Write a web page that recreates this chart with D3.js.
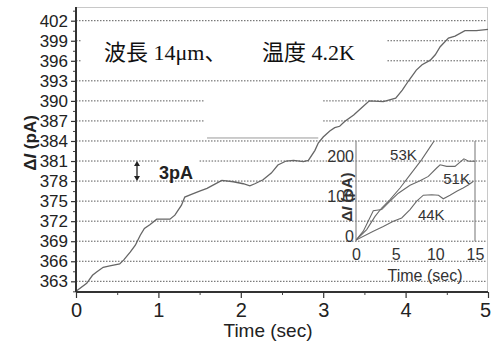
<!DOCTYPE html>
<html>
<head>
<meta charset="utf-8">
<script src="https://cdn.jsdelivr.net/npm/d3@7"></script>
<style>
  html, body { margin: 0; padding: 0; background: #fff; }
  svg { display: block; }
</style>
</head>
<body>
<svg id="chart" width="491" height="344"></svg>
<script>
// Photocurrent step trace at 4.2 K (main panel)
const mainTime = [0, 0.13, 0.20, 0.25, 0.33, 0.41, 0.53, 0.58, 0.66, 0.72,
  0.78, 0.83, 0.90, 0.98, 1.14, 1.20, 1.28, 1.32, 1.40, 1.50,
  1.59, 1.68, 1.77, 1.91, 2.03, 2.11, 2.17, 2.27, 2.37, 2.45,
  2.55, 2.64, 2.76, 2.82, 2.90, 2.94, 3.00, 3.08, 3.14, 3.20,
  3.26, 3.37, 3.47, 3.56, 3.73, 3.88, 3.96, 4.03, 4.13, 4.20,
  4.30, 4.36, 4.42, 4.52, 4.60, 4.72, 4.86, 5.0];
const mainCurrent = [361.5, 362.7, 363.9, 364.4, 365.1, 365.3, 365.6, 366.2, 367.4, 368.4,
  369.9, 370.9, 371.5, 372.3, 372.3, 372.9, 374.4, 375.6, 376.0, 376.5,
  376.9, 377.5, 378.1, 377.9, 377.6, 377.3, 377.6, 378.2, 379.2, 380.4,
  381.0, 381.1, 380.9, 381.1, 382.6, 383.7, 384.6, 385.5, 386.0, 386.2,
  386.9, 387.9, 389.0, 390.0, 389.9, 390.4, 391.6, 392.9, 394.6, 395.4,
  396.1, 396.9, 398.1, 399.4, 399.7, 400.5, 400.5, 400.7];

// Inset traces at higher temperatures
const t53 = [0, 1.35, 2.4, 3.24, 4.29, 5.55, 6.81, 8.28, 9.12, 9.96, 10.5];
const v53 = [0, 26, 59, 80, 101, 130, 163, 201, 226, 251, 265];
const t51 = [0, 0.92, 2.18, 3.24, 4.29, 5.34, 6.81, 8.07, 9.12, 10.17, 10.6, 11.43, 12.48, 13.3, 13.6, 14.2, 15];
const v51 = [0, 22, 73, 76, 97, 117, 137, 148, 159, 180, 188, 184, 184, 198, 203, 197, 197];
const t44 = [0, 2.18, 3.44, 4.7, 5.76, 6.81, 7.65, 8.49, 9.55, 10.4, 11.0, 11.85, 12.7, 13.5, 14.2, 14.8];
const v44 = [0, 22, 34, 47, 55, 76, 97, 112, 113, 112, 103, 112, 122, 130, 138, 147];

const mainXTicks = [0, 1, 2, 3, 4, 5];
const mainYTicks = [363, 366, 369, 372, 375, 378, 381, 384, 387, 390, 393, 396, 399, 402];
const insetXTicks = [0, 5, 10, 15];
const insetYTicks = [0, 100, 200];
const insetLabels = ["53K", "51K", "44K"];

const svg = d3.select("#chart");
const FONT = "'Liberation Sans', Arial, sans-serif";

const x = d3.scaleLinear().domain([0, 5]).range([76, 488]);
const y = d3.scaleLinear().domain([361.4, 404.05]).range([292, 7]);

// dotted gridlines, some interrupted where annotations sit
const gridGaps = {
  399: [[0, 0.07], [3.78, 5]],
  396: [[0, 0.07], [3.78, 5]],
  390: [[0, 1.55], [3.0, 5]],
  387: [[0, 1.55], [3.0, 5]],
  381: [[0, 1.02], [1.5, 5]]
};
const grid = svg.append("g");
mainYTicks.forEach(v => {
  const segs = gridGaps[v] || [[0, 5]];
  segs.forEach(s => {
    grid.append("line")
      .attr("x1", x(s[0])).attr("x2", x(s[1]))
      .attr("y1", y(v)).attr("y2", y(v))
      .attr("stroke", "#5a5a5a").attr("stroke-width", 1)
      .attr("stroke-dasharray", "1.5,1.5");
  });
});
// thin rule under the blanked band
grid.append("line")
  .attr("x1", x(1.59)).attr("x2", x(2.94))
  .attr("y1", y(384.45)).attr("y2", y(384.45))
  .attr("stroke", "#999").attr("stroke-width", 1);

// frame (top / right)
svg.append("line").attr("x1", 76).attr("x2", 488).attr("y1", 7.5).attr("y2", 7.5)
  .attr("stroke", "#c8c8c8").attr("stroke-width", 1);
svg.append("line").attr("x1", 487.5).attr("x2", 487.5).attr("y1", 7).attr("y2", 292)
  .attr("stroke", "#c8c8c8").attr("stroke-width", 1);

// main trace
const line = d3.line().x(d => x(d[0])).y(d => y(d[1]));
svg.append("path")
  .datum(mainTime.map((t, i) => [t, mainCurrent[i]]))
  .attr("d", line)
  .attr("fill", "none").attr("stroke", "#666").attr("stroke-width", 1.3);

// axes
const yMinor = d3.range(361.5, 404, 1.5).filter(v => !mainYTicks.includes(v));
svg.append("g").attr("transform", "translate(76,0)")
  .call(d3.axisLeft(y).tickValues(yMinor).tickSize(3).tickFormat(""))
  .call(g => g.select(".domain").remove())
  .selectAll("line").attr("stroke", "#444");
const yAxis = svg.append("g").attr("transform", "translate(76,0)")
  .call(d3.axisLeft(y).tickValues(mainYTicks).tickSize(5).tickPadding(3).tickFormat(d3.format("d")));
yAxis.select(".domain").attr("stroke", "#333").attr("stroke-width", 2)
  .attr("d", `M0,${7}V${292}`);
yAxis.selectAll("line").attr("stroke", "#333").attr("stroke-width", 1.2);
yAxis.selectAll("text").attr("font-family", FONT).attr("font-size", 17).attr("fill", "#222");

svg.append("g").attr("transform", "translate(0,292)")
  .call(d3.axisBottom(x).tickValues([0.5, 1.5, 2.5, 3.5, 4.5]).tickSize(3).tickFormat(""))
  .call(g => g.select(".domain").remove())
  .selectAll("line").attr("stroke", "#444");
const xAxis = svg.append("g").attr("transform", "translate(0,292)")
  .call(d3.axisBottom(x).tickValues(mainXTicks).tickSize(6).tickPadding(5).tickFormat(d3.format("d")));
xAxis.select(".domain").attr("stroke", "#333").attr("stroke-width", 2)
  .attr("d", `M76,0H488`);
xAxis.selectAll("line").attr("stroke", "#333").attr("stroke-width", 1.2);
xAxis.selectAll("text").attr("font-family", FONT).attr("font-size", 20).attr("fill", "#222");
// keep the last label inside the canvas
xAxis.selectAll(".tick").filter(d => d === 5).select("text").attr("dx", "-3");

// axis titles
svg.append("text").attr("x", 268).attr("y", 337)
  .attr("text-anchor", "middle").attr("font-family", FONT).attr("font-size", 19).attr("fill", "#222")
  .text("Time (sec)");
const yt = svg.append("text").attr("transform", "translate(36,143) rotate(-90)")
  .attr("text-anchor", "middle").attr("font-family", FONT).attr("font-size", 17)
  .attr("font-weight", "bold").attr("fill", "#222");
yt.append("tspan").text("Δ");
yt.append("tspan").attr("font-style", "italic").text("I");
yt.append("tspan").text(" (pA)");

// 3 pA scale marker
const ax = 137;
svg.append("line").attr("x1", ax).attr("x2", ax).attr("y1", y(381) + 3).attr("y2", y(378) - 3)
  .attr("stroke", "#222").attr("stroke-width", 1.3);
svg.append("path").attr("d", `M${ax - 3},${y(381) + 5}L${ax},${y(381)}L${ax + 3},${y(381) + 5}Z`).attr("fill", "#222");
svg.append("path").attr("d", `M${ax - 3},${y(378) - 5}L${ax},${y(378)}L${ax + 3},${y(378) - 5}Z`).attr("fill", "#222");
svg.append("text").attr("x", 159).attr("y", 179).attr("font-family", FONT)
  .attr("font-size", 18).attr("font-weight", "bold").attr("fill", "#222").text("3pA");

// conditions
const JP = "'Liberation Serif', 'DejaVu Serif', 'Noto Sans CJK JP', serif";
svg.append("text").attr("x", 104).attr("y", 60).attr("font-family", JP)
  .attr("font-size", 22).attr("fill", "#111").text("波長 14μm、");
svg.append("text").attr("x", 262).attr("y", 60).attr("font-family", JP)
  .attr("font-size", 22).attr("fill", "#111").text("温度 4.2K");

// ---- inset ----
const ix = d3.scaleLinear().domain([0, 15]).range([356, 475]);
const iy = d3.scaleLinear().domain([0, 200]).range([240, 160]);
const insetTop = y(384), insetBottom = y(369);

svg.append("defs").append("clipPath").attr("id", "insetClip")
  .append("rect").attr("x", ix(0)).attr("y", insetTop)
  .attr("width", ix(15) - ix(0)).attr("height", insetBottom - insetTop);

[ix(0), ix(15)].forEach(px => {
  svg.append("line").attr("x1", px).attr("x2", px).attr("y1", insetTop).attr("y2", insetBottom)
    .attr("stroke", "#8a8a8a").attr("stroke-width", 1.2);
});

const iline = d3.line().x(d => ix(d[0])).y(d => iy(d[1]));
const inset = svg.append("g").attr("clip-path", "url(#insetClip)");
[[t53, v53], [t51, v51], [t44, v44]].forEach(([ts, vs]) => {
  inset.append("path")
    .datum(ts.map((t, i) => [t, vs[i]]))
    .attr("d", iline)
    .attr("fill", "none").attr("stroke", "#6a6a6a").attr("stroke-width", 1.1);
});

const ixAxis = svg.append("g").attr("transform", `translate(0,${insetBottom})`)
  .call(d3.axisBottom(ix).tickValues(insetXTicks).tickSize(0).tickPadding(7));
ixAxis.select(".domain").remove();
ixAxis.selectAll("text").attr("font-family", FONT).attr("font-size", 16).attr("fill", "#333");

const iyAxis = svg.append("g").attr("transform", `translate(${ix(0)},0)`)
  .call(d3.axisLeft(iy).tickValues(insetYTicks).tickSize(0).tickPadding(2));
iyAxis.select(".domain").remove();
iyAxis.selectAll("text").attr("font-family", FONT).attr("font-size", 16).attr("fill", "#333")
  .attr("dy", "0.1em");

svg.append("text").attr("x", 425).attr("y", 281).attr("text-anchor", "middle")
  .attr("font-family", FONT).attr("font-size", 16).attr("fill", "#333").text("Time (sec)");
const iyt = svg.append("text").attr("transform", "translate(352,197) rotate(-90)")
  .attr("text-anchor", "middle").attr("font-family", FONT).attr("font-size", 15)
  .attr("font-weight", "bold").attr("fill", "#333");
iyt.append("tspan").text("Δ");
iyt.append("tspan").attr("font-style", "italic").text("I");
iyt.append("tspan").text(" (pA)");

const labelPos = [[4.3, 200], [11.0, 140], [7.8, 50]];
insetLabels.forEach((lab, i) => {
  svg.append("text").attr("x", ix(labelPos[i][0])).attr("y", iy(labelPos[i][1]))
    .attr("font-family", FONT).attr("font-size", 15).attr("fill", "#333").text(lab);
});
</script>
</body>
</html>
